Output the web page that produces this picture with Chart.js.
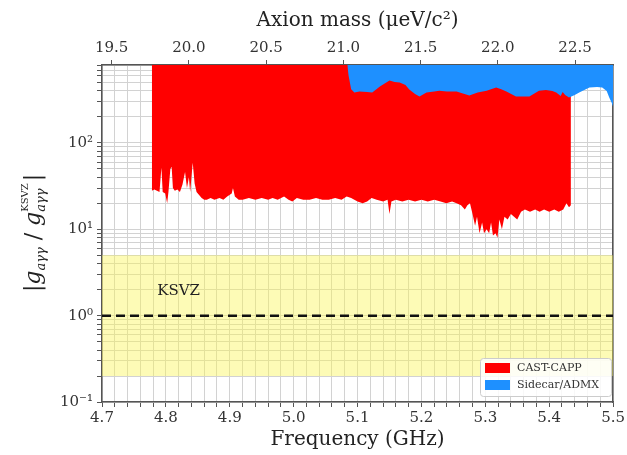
<!DOCTYPE html>
<html>
<head>
<meta charset="utf-8">
<script src="https://cdn.jsdelivr.net/npm/chart.js@4.4.1/dist/chart.umd.min.js"></script>
<style>
  html, body { margin: 0; padding: 0; background: #fff; }
  #wrap { width: 627px; height: 455px; }
</style>
</head>
<body>
<div id="wrap"><canvas id="chart" width="627" height="455"></canvas></div>
<script>
// axes
const freqMin = 4.7;
const freqMax = 5.5;
const freqMajorTicks = [4.7, 4.8, 4.9, 5.0, 5.1, 5.2, 5.3, 5.4, 5.5];
const massTicks = [19.5, 20.0, 20.5, 21.0, 21.5, 22.0, 22.5];
const ueVPerGHz = 4.135667;
const yMin = 0.1;
const yMax = 800;
const yDecades = [0.1, 1, 10, 100];
const yDecadeLabels = ['10\u207B\u00B9', '10\u2070', '10\u00B9', '10\u00B2'];

// CAST-CAPP exclusion: lower edge of the red region (GHz, |g/g_KSVZ|)
const castFreq = [4.778, 4.782, 4.786, 4.790, 4.793, 4.795, 4.799, 4.802, 4.804, 4.807,
  4.809, 4.811, 4.814, 4.818, 4.822, 4.826, 4.830, 4.833, 4.836, 4.838,
  4.842, 4.845, 4.848, 4.852, 4.856, 4.860, 4.864, 4.870, 4.876, 4.884,
  4.890, 4.896, 4.903, 4.905, 4.908, 4.914, 4.920, 4.930, 4.940, 4.950,
  4.960, 4.967, 4.975, 4.985, 4.992, 4.998, 5.005, 5.015, 5.025, 5.035,
  5.045, 5.055, 5.065, 5.075, 5.083, 5.090, 5.100, 5.108, 5.115, 5.122,
  5.130, 5.140, 5.147, 5.150, 5.153, 5.160, 5.170, 5.180, 5.190, 5.200,
  5.210, 5.220, 5.230, 5.239, 5.248, 5.255, 5.262, 5.268, 5.272, 5.276,
  5.280, 5.284, 5.287, 5.291, 5.295, 5.298, 5.302, 5.306, 5.309, 5.312,
  5.316, 5.319, 5.322, 5.326, 5.330, 5.335, 5.340, 5.345, 5.350, 5.356,
  5.362, 5.370, 5.378, 5.385, 5.392, 5.400, 5.408, 5.415, 5.422, 5.427,
  5.431, 5.434];
const castLow = [28, 29, 28, 27, 52, 27, 26, 20, 27, 50,
  53, 30, 28, 29, 27, 33, 46, 30, 40, 27,
  59, 34, 27, 25, 23, 22, 22, 23, 22, 23,
  22, 24, 26, 30, 24, 22, 22, 23, 22, 23,
  22, 23, 22, 24, 22, 21, 23, 22, 22, 23,
  22, 22, 23, 22, 24, 23, 21, 20, 21, 23,
  22, 21, 22, 15, 21, 22, 21, 22, 21, 22,
  21, 22, 21, 20, 21, 20, 19, 17, 19, 20,
  15, 11, 14, 9, 12, 9, 10, 9, 12, 8.5,
  9, 8, 13, 10, 14, 13, 15, 14, 13, 16,
  17, 16, 17, 16, 17, 16, 17, 16, 17, 20,
  18, 19];

// Sidecar/ADMX exclusion: lower edge of the blue region
const admxFreq = [5.084, 5.086, 5.090, 5.095, 5.103, 5.115, 5.123, 5.135, 5.150, 5.158,
  5.166, 5.175, 5.181, 5.190, 5.197, 5.208, 5.220, 5.228, 5.240, 5.255,
  5.265, 5.275, 5.288, 5.302, 5.317, 5.325, 5.333, 5.348, 5.369, 5.384,
  5.395, 5.405, 5.411, 5.418, 5.421, 5.425, 5.431, 5.440, 5.447, 5.455,
  5.463, 5.475, 5.483, 5.490, 5.494, 5.498, 5.500];
const admxLow = [800, 600, 420, 384, 394, 390, 384, 450, 528, 510,
  500, 470, 416, 370, 345, 384, 395, 402, 395, 394,
  375, 355, 385, 402, 438, 420, 394, 345, 345, 402,
  410, 400, 384, 350, 390, 360, 336, 360, 384, 410,
  438, 445, 438, 400, 336, 290, 263];

const ksvzBand = [0.2, 5];
const ksvzValue = 1;

const serif = "'DejaVu Serif', 'Liberation Serif', serif";

// every 0.02 GHz gets a grid line, labels only on the majors
const freqGridTicks = [];
for (let i = 0; i < freqMajorTicks.length - 1; i++) {
  for (let k = 0; k < 5; k++) freqGridTicks.push(+(freqMajorTicks[i] + k * 0.02).toFixed(2));
}
freqGridTicks.push(freqMax);

const yGridTicks = [];
yDecades.forEach(d => {
  for (let m = 1; m <= 9; m++) {
    const v = +(m * d).toPrecision(3);
    if (v <= yMax) yGridTicks.push(v);
  }
});

function toPoints(xs, ys) {
  return xs.map((x, i) => ({ x: x, y: ys[i] }));
}

const extraText = {
  id: 'extraText',
  afterDatasetsDraw(chart) {
    const ctx = chart.ctx;
    const xs = chart.scales.x, ys = chart.scales.y;
    ctx.save();
    ctx.fillStyle = '#222';
    ctx.font = '15px ' + serif;
    ctx.textAlign = 'center';
    ctx.textBaseline = 'middle';
    ctx.fillText('KSVZ', xs.getPixelForValue(4.82), ys.getPixelForValue(1.9));
    ctx.restore();
  },
  afterDraw(chart) {
    const ctx = chart.ctx;
    const area = chart.chartArea;

    // legend box, bottom right inside the plot
    const items = [
      chart.data.datasets.find(d => d.label === 'CAST-CAPP'),
      chart.data.datasets.find(d => d.label === 'Sidecar/ADMX')
    ];
    const bx = 480, by = 358, bw = area.right - 2 - bx, bh = 38;
    ctx.save();
    ctx.fillStyle = 'rgba(255,255,255,0.85)';
    ctx.strokeStyle = '#cccccc';
    ctx.lineWidth = 1;
    ctx.beginPath();
    ctx.roundRect(bx + 0.5, by + 0.5, bw, bh, 3);
    ctx.fill();
    ctx.stroke();
    ctx.font = '11px ' + serif;
    ctx.textBaseline = 'middle';
    items.forEach((d, i) => {
      const cy = by + 10 + i * 17;
      ctx.fillStyle = d.backgroundColor;
      ctx.fillRect(bx + 5, cy - 5, 25, 10);
      ctx.fillStyle = '#333';
      ctx.fillText(d.label, bx + 37, cy);
    });
    ctx.restore();

    // y axis title |g_aγγ / g_aγγ^KSVZ| drawn with sub/superscripts
    const parts = [
      { t: '|', f: '22px ' + serif, dy: 0 },
      { t: 'g', f: 'italic 22px ' + serif, dy: 0 },
      { t: 'a\u03B3\u03B3', f: 'italic 13px ' + serif, dy: 5 },
      { t: ' / ', f: '22px ' + serif, dy: 0 },
      { t: 'g', f: 'italic 22px ' + serif, dy: 0 },
      { t: 'a\u03B3\u03B3', f: 'italic 13px ' + serif, dy: 5, sup: 'KSVZ' },
      { t: '|', f: '22px ' + serif, dy: 0 }
    ];
    ctx.save();
    ctx.fillStyle = '#222';
    ctx.textBaseline = 'alphabetic';
    let total = 0;
    parts.forEach(p => {
      ctx.font = p.f;
      p.w = ctx.measureText(p.t).width;
      if (p.sup) {
        ctx.font = '10px ' + serif;
        p.w = Math.max(p.w, ctx.measureText(p.sup).width) + 2;
      }
      total += p.w;
    });
    ctx.translate(40, 233);
    ctx.rotate(-Math.PI / 2);
    let px = -total / 2;
    parts.forEach(p => {
      ctx.font = p.f;
      ctx.fillText(p.t, px, p.dy);
      if (p.sup) {
        ctx.font = '10px ' + serif;
        ctx.fillText(p.sup, px, -12);
      }
      px += p.w;
    });
    ctx.restore();
  }
};

const tickFont = { family: serif, size: 15 };

new Chart(document.getElementById('chart'), {
  type: 'scatter',
  data: {
    datasets: [
      {
        label: 'KSVZ',
        data: toPoints([freqMin, freqMax], [ksvzValue, ksvzValue]),
        showLine: true,
        borderColor: '#111',
        borderWidth: 2.5,
        borderDash: [9, 5],
        pointRadius: 0,
        fill: false,
        order: 0
      },
      {
        label: 'Sidecar/ADMX',
        data: toPoints(admxFreq, admxLow),
        showLine: true,
        borderWidth: 0,
        borderColor: 'rgba(0,0,0,0)',
        backgroundColor: '#1e90ff',
        pointRadius: 0,
        fill: 'end',
        order: 1
      },
      {
        label: 'CAST-CAPP',
        data: toPoints(castFreq, castLow),
        showLine: true,
        borderWidth: 0,
        borderColor: 'rgba(0,0,0,0)',
        backgroundColor: '#ff0000',
        pointRadius: 0,
        fill: 'end',
        order: 2
      },
      {
        label: 'band',
        data: toPoints([freqMin, freqMax], [ksvzBand[1], ksvzBand[1]]),
        showLine: true,
        borderWidth: 0,
        borderColor: 'rgba(0,0,0,0)',
        backgroundColor: 'rgba(250,245,80,0.42)',
        pointRadius: 0,
        fill: { value: ksvzBand[0] },
        order: 3
      }
    ]
  },
  options: {
    responsive: false,
    animation: false,
    layout: { padding: 0 },
    plugins: {
      legend: { display: false },
      tooltip: { enabled: false }
    },
    elements: { line: { tension: 0 } },
    scales: {
      x: {
        type: 'linear',
        position: 'bottom',
        min: freqMin,
        max: freqMax,
        afterBuildTicks: s => { s.ticks = freqGridTicks.map(v => ({ value: v })); },
        afterFit: s => { s.height = 53; },
        ticks: {
          autoSkip: false, maxRotation: 0, minRotation: 0,
          padding: 2, color: '#333', font: tickFont,
          callback: v => {
            const t = freqMajorTicks.find(m => Math.abs(m - v) < 1e-6);
            return t === undefined ? '' : t.toFixed(1);
          }
        },
        grid: { color: '#d2d2d2', lineWidth: 1, tickLength: 5, tickColor: '#555' },
        border: { color: '#555', width: 1.5 },
        title: {
          display: true, text: 'Frequency (GHz)', color: '#222',
          font: { family: serif, size: 20 }, padding: { top: 0, bottom: 3 }
        }
      },
      x2: {
        type: 'linear',
        position: 'top',
        min: freqMin * ueVPerGHz,
        max: freqMax * ueVPerGHz,
        afterBuildTicks: s => { s.ticks = massTicks.map(v => ({ value: v })); },
        afterFit: s => { s.height = 65; },
        ticks: {
          autoSkip: false, maxRotation: 0, minRotation: 0,
          padding: 3, color: '#333', font: tickFont,
          callback: v => v.toFixed(1)
        },
        grid: { drawOnChartArea: false, tickLength: 5, tickColor: '#555' },
        border: { color: '#555', width: 1.5 },
        title: {
          display: true, text: 'Axion mass (\u03BCeV/c\u00B2)', color: '#222',
          font: { family: serif, size: 20 }, padding: { top: 9, bottom: 0 }
        }
      },
      y: {
        type: 'logarithmic',
        position: 'left',
        min: yMin,
        max: yMax,
        afterBuildTicks: s => { s.ticks = yGridTicks.map(v => ({ value: v })); },
        afterFit: s => { s.width = 102; },
        ticks: {
          autoSkip: false, padding: 4, color: '#333', font: tickFont,
          callback: v => {
            const i = yDecades.indexOf(v);
            return i >= 0 ? yDecadeLabels[i] : '';
          }
        },
        grid: { color: '#d2d2d2', lineWidth: 1, tickLength: 5, tickColor: '#555' },
        border: { color: '#555', width: 1.5 }
      },
      yr: {
        type: 'linear',
        position: 'right',
        afterFit: s => { s.width = 13; },
        ticks: { display: false },
        grid: { drawOnChartArea: false, drawTicks: false },
        border: { color: '#555', width: 1.5 }
      }
    }
  },
  plugins: [extraText]
});
</script>
</body>
</html>
